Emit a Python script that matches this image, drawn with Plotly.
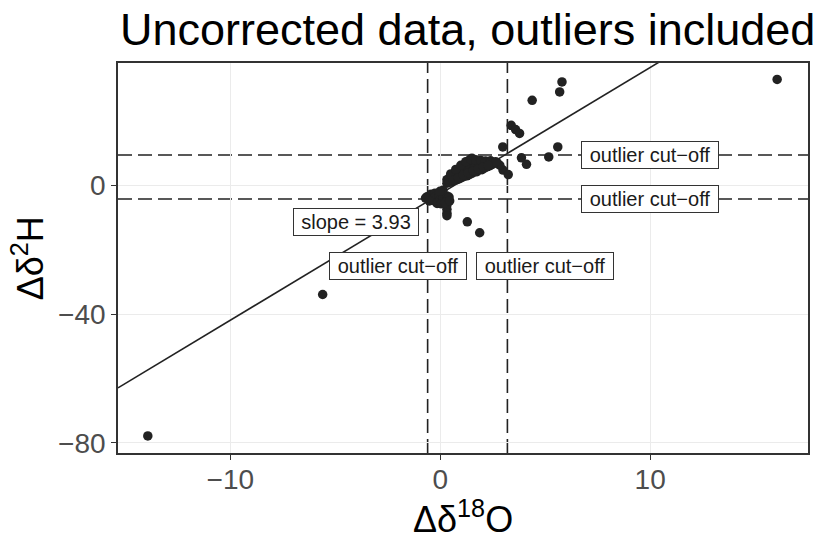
import numpy as np
import plotly.graph_objects as go

# Paired isotope differences (Δδ18O, Δδ2H)
d18O = [
    # isolated / outlying samples
    -13.93, -5.60, 16.05, 5.80, 5.69, 4.38, 3.38, 3.59, 3.78, 2.98, 5.60,
    5.17, 3.87, 4.11, 2.99, 3.24, 1.29, 1.88,
    # main cluster
    0.32, 0.32, 0.56, 0.56, 0.56, 0.80, 0.80, 0.80, 0.80,
    1.04, 1.04, 1.04, 1.04, 1.27, 1.27, 1.27, 1.27, 1.27,
    1.51, 1.51, 1.51, 1.51, 1.51, 1.75, 1.75, 1.75, 1.75,
    1.99, 1.99, 1.99, 2.22, 2.22, 2.22, 2.46, 2.46, 2.70, 2.84,
    0.44, 0.44, 0.68, 0.68, 0.92, 0.92, 0.92, 1.16, 1.16, 1.16,
    1.39, 1.39, 1.39, 1.63, 1.63, 1.63, 1.87, 1.87, 2.10, 2.10,
    2.34, 2.34, 2.58,
    0.50, 0.74, 0.98, 1.22, 1.45, 1.69, 1.93, 2.16, 2.40, 2.64,
    0.62, 0.86, 1.10, 1.33, 1.57, 1.81, 2.05, 2.28,
    # lower group
    -0.63, -0.44, -0.44, -0.25, -0.25, -0.25, -0.06, -0.06, -0.06,
    0.13, 0.13, 0.13, 0.32, 0.32, 0.42, 0.32, 0.32, 0.32, 0.32,
    0.13, -0.01, -0.70, -0.52, -0.15, 0.05, 0.24, 0.45,
]
d2H = [
    -77.9, -33.9, 33.0, 32.2, 29.1, 26.5, 18.7, 17.4, 16.2, 12.0, 12.0,
    8.9, 8.6, 6.6, 4.8, 3.4, -11.3, -14.7,
    1.8, 0.7, 2.9, 1.9, 1.2, 4.5, 3.4, 2.5, 1.8,
    5.8, 4.7, 3.6, 2.5, 7.3, 6.0, 4.9, 3.9, 3.0,
    8.5, 7.2, 6.0, 4.8, 3.8, 7.3, 6.2, 5.2, 4.3,
    7.3, 6.1, 4.9, 7.3, 6.4, 5.8, 7.3, 6.5, 7.1, 6.3,
    2.4, 1.0, 3.8, 2.2, 5.1, 3.0, 2.1, 6.6, 4.2, 2.9,
    7.9, 5.4, 3.4, 7.8, 5.5, 4.2, 6.8, 5.0, 6.7, 5.4,
    7.0, 6.1, 6.9,
    3.6, 5.0, 6.3, 7.4, 8.1, 8.0, 7.8, 7.6, 7.7, 7.4,
    1.6, 2.4, 3.3, 4.0, 4.6, 5.2, 5.8, 6.2,
    -3.5, -2.7, -4.0, -2.4, -3.6, -4.9, -2.4, -3.6, -4.9,
    -2.7, -4.0, -5.2, -3.3, -4.6, -3.6, -6.1, -7.4, -8.6, -9.4,
    -1.5, -1.8, -3.9, -4.8, -5.6, -5.7, -5.3, -4.8,
]

# Fitted relationship
slope = 3.93
intercept = -2.6

# Outlier cut-offs
cut_x = [-0.6, 3.2]
cut_y = [-4.2, 9.5]

x_range = [-15.35, 17.52]
y_range = [-83.2, 38.1]
x_ticks = [-10, 0, 10]
y_ticks = [-80, -40, 0]

FONT = "Liberation Sans, Arial, Helvetica, sans-serif"
INK = "#222222"

fig = go.Figure()

line_x = np.array(x_range)
fig.add_trace(go.Scatter(
    x=line_x, y=slope * line_x + intercept, mode="lines",
    line=dict(color=INK, width=1.6), hoverinfo="skip", showlegend=False,
))

fig.add_trace(go.Scatter(
    x=d18O, y=d2H, mode="markers",
    marker=dict(size=9.5, color=INK, line=dict(width=0)),
    showlegend=False,
))

dash = "14px,6px"
for cx in cut_x:
    fig.add_shape(type="line", xref="x", yref="paper", x0=cx, x1=cx, y0=0, y1=1,
                  line=dict(color=INK, width=1.6, dash=dash), layer="between")
for cy in cut_y:
    fig.add_shape(type="line", xref="paper", yref="y", x0=0, x1=1, y0=cy, y1=cy,
                  line=dict(color=INK, width=1.6, dash=dash), layer="between")


def label(x, y, text, width):
    fig.add_annotation(
        x=x, y=y, xref="x", yref="y", text=text, showarrow=False,
        font=dict(family=FONT, size=20, color="#1a1a1a"),
        bgcolor="white", bordercolor="#333333", borderwidth=1, borderpad=2,
        width=width, height=22, align="center", valign="middle",
    )


label(-4.0, -11.2, f"slope = {slope:.2f}", 120)
label(-2.0, -25.1, "outlier cut−off", 132)
label(5.0, -25.1, "outlier cut−off", 132)
label(10.0, cut_y[1], "outlier cut−off", 132)
label(10.0, cut_y[0], "outlier cut−off", 132)

# Title and axis titles
fig.add_annotation(
    x=0, y=1, xref="paper", yref="paper", xanchor="left", yanchor="bottom",
    yshift=6, text="Uncorrected data, outliers included", showarrow=False,
    font=dict(family=FONT, size=45, color="black"),
)
fig.add_annotation(
    x=0.5, y=-0.163, xref="paper", yref="paper", xanchor="center", yanchor="middle",
    text="Δδ<sup>18</sup>O", showarrow=False,
    font=dict(family=FONT, size=36, color="black"),
)
fig.add_annotation(
    x=-0.13, y=0.5, xref="paper", yref="paper", xanchor="center", yanchor="middle",
    text="Δδ<sup>2</sup>H", textangle=-90, showarrow=False,
    font=dict(family=FONT, size=36, color="black"),
)

axis_common = dict(
    showline=True, mirror=True, linecolor="#333333", linewidth=1.6,
    ticks="outside", ticklen=5, tickwidth=1.4, tickcolor="#333333",
    showgrid=True, gridcolor="#EBEBEB", gridwidth=1.3, zeroline=False,
    tickfont=dict(family=FONT, size=28, color="#4D4D4D"),
)

fig.update_layout(
    width=817, height=541,
    margin=dict(l=118, r=7, t=63, b=88),
    paper_bgcolor="white", plot_bgcolor="white",
    xaxis=dict(range=x_range, tickvals=x_ticks, ticklabelstandoff=-4, **axis_common),
    yaxis=dict(range=y_range, tickvals=y_ticks, **axis_common),
    showlegend=False,
)

fig.write_html("out.html")
